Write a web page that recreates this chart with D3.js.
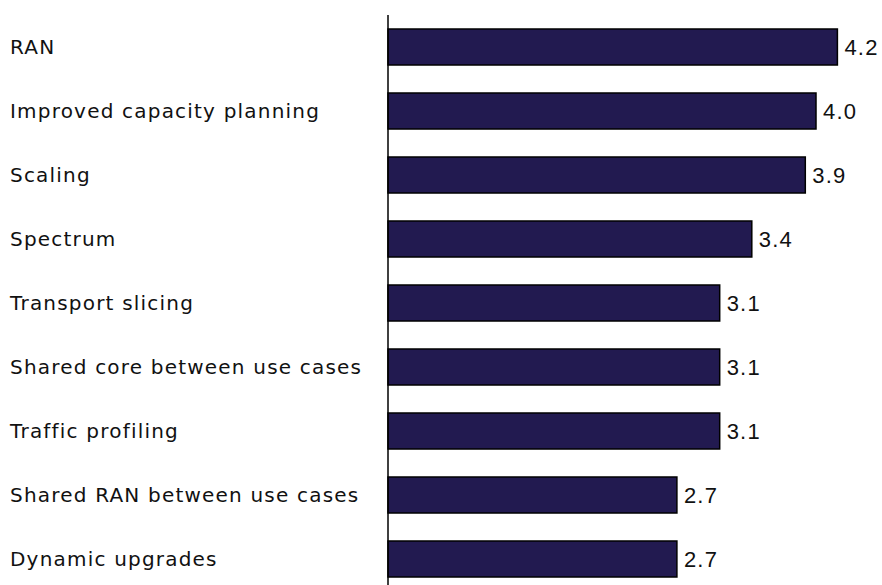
<!DOCTYPE html>
<html>
<head>
<meta charset="utf-8">
<script src="https://cdn.jsdelivr.net/npm/d3@7"></script>
<style>
  html, body { margin: 0; padding: 0; background: #fff; }
  svg { display: block; }
</style>
</head>
<body>
<svg id="chart" width="882" height="585"></svg>
<script>
// Categories, top to bottom
const categories = [
  "RAN",
  "Improved capacity planning",
  "Scaling",
  "Spectrum",
  "Transport slicing",
  "Shared core between use cases",
  "Traffic profiling",
  "Shared RAN between use cases",
  "Dynamic upgrades"
];
// Average score per category
const values = [4.2, 4.0, 3.9, 3.4, 3.1, 3.1, 3.1, 2.7, 2.7];
const valueLabels = ["4.2", "4.0", "3.9", "3.4", "3.1", "3.1", "3.1", "2.7", "2.7"];

const svg = d3.select("#chart");
const W = 882, H = 585;
const x0 = 388;

const x = d3.scaleLinear().domain([0, 4.2]).range([x0, x0 + 4.2 * 107]);
const y = d3.scaleBand()
  .domain(categories)
  .range([15, 591])
  .paddingInner(0.4375)
  .paddingOuter(0.21875);

const rows = categories.map((c, i) => ({ c, v: values[i], lab: valueLabels[i] }));

// Bars
svg.append("g").selectAll("rect")
  .data(rows)
  .join("rect")
  .attr("x", x(0))
  .attr("y", d => y(d.c))
  .attr("width", d => x(d.v) - x(0))
  .attr("height", y.bandwidth())
  .attr("fill", "#221a50")
  .attr("stroke", "#000")
  .attr("stroke-width", 1.5);

// Vertical axis line
svg.append("line")
  .attr("x1", x0).attr("x2", x0)
  .attr("y1", 15).attr("y2", H)
  .attr("stroke", "#000")
  .attr("stroke-width", 1.5);

// Category labels
svg.append("g").selectAll("text")
  .data(rows)
  .join("text")
  .attr("x", 10)
  .attr("y", d => y(d.c) + y.bandwidth() / 2)
  .attr("dy", "0.36em")
  .attr("font-family", "'DejaVu Sans', sans-serif")
  .attr("font-size", 20)
  .attr("letter-spacing", 1.2)
  .attr("fill", "#111")
  .text(d => d.c);

// Value labels
svg.append("g").selectAll("text")
  .data(rows)
  .join("text")
  .attr("x", d => x(d.v) + 7)
  .attr("y", d => y(d.c) + y.bandwidth() / 2)
  .attr("dy", "0.36em")
  .attr("font-family", "'Liberation Sans', Arial, sans-serif")
  .attr("font-size", 22)
  .attr("letter-spacing", 1.2)
  .attr("fill", "#111")
  .text(d => d.lab);
</script>
</body>
</html>
